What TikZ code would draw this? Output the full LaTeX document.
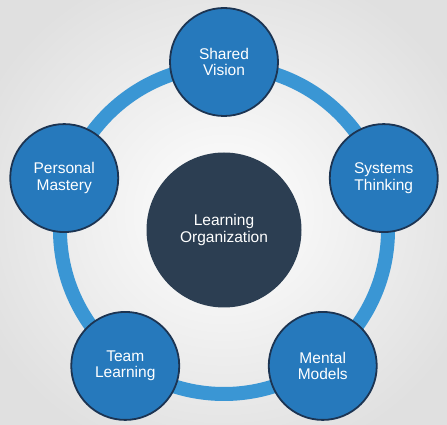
\documentclass[tikz,border=0pt]{standalone}
\usepackage{fontspec}
\setmainfont{Liberation Sans}
\usetikzlibrary{calc}
\definecolor{discblue}{RGB}{38,121,188}
\definecolor{discedge}{RGB}{28,52,82}
\definecolor{ringblue}{RGB}{58,150,212}
\definecolor{coreslate}{RGB}{44,62,82}
\tikzset{
  discipline/.style={circle, draw=discedge, line width=1.8pt, fill=discblue,
    minimum size=108pt, inner sep=0pt, text=white, align=center,
    font=\fontsize{15.5}{16.5}\selectfont},
  core/.style={circle, fill=coreslate, minimum size=155pt, inner sep=0pt,
    text=white, align=center, font=\fontsize{15.5}{16.5}\selectfont},
  ring/.style={draw=ringblue, line width=14pt}
}
\begin{document}
\begin{tikzpicture}[x=1pt, y=1pt]
   \useasboundingbox (0,0) rectangle (447,425);
   \shade[inner color=white, outer color=black!12] (-40,-40) rectangle (487,465);
   \coordinate (hub) at (224,195);
   \draw[ring] (hub) circle (164);
   \node[core] (org) at (hub) {Learning\\Organization};
   \node[discipline] (vision) at ($(hub)+(90:168)$) {Shared\\Vision};
   \node[discipline] (systems) at ($(hub)+(18:168)$) {Systems\\Thinking};
   \node[discipline] (models) at ($(hub)+(-54:168)$) {Mental\\Models};
   \node[discipline] (team) at ($(hub)+(-126:168)$) {Team\\Learning};
   \node[discipline] (mastery) at ($(hub)+(162:168)$) {Personal\\Mastery};
\end{tikzpicture}
\end{document}
